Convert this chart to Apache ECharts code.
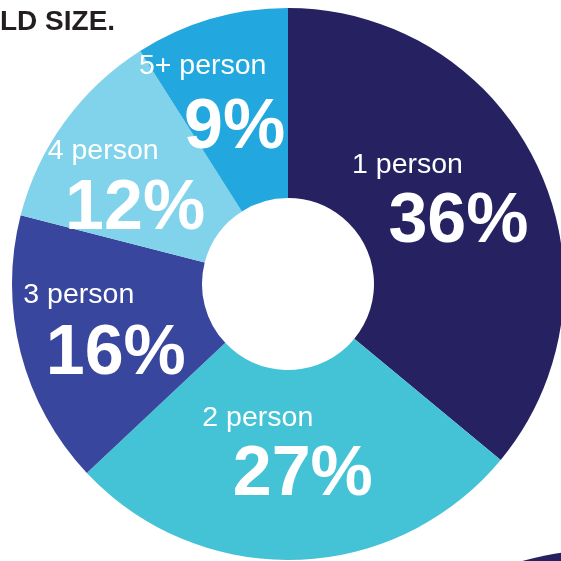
<!DOCTYPE html>
<html><head><meta charset="utf-8">
<script src="https://cdn.jsdelivr.net/npm/echarts@6/dist/echarts.min.js"></script>
<style>html,body{margin:0;padding:0;background:#fff}#c{width:561px;height:561px}</style>
</head><body><div id="c"></div>
<script>
const categories = ['1 person', '2 person', '3 person', '4 person', '5+ person'];
const shares = [36, 27, 16, 12, 9];
const titleText = 'LD SIZE.';

const colors = ['#262262', '#45c3d6', '#38469e', '#80d3ea', '#22a7df'];
// label layout tweaks (not data)
const nameOffsets = [[-47, -41], [-36, -50], [-31, -35], [-36, -25], [-34, -41]];
const pctOffsets = [[4, 17], [9, 8], [6, 25], [-4, 34], [-2, 21]];

const FONT = '"Liberation Sans", Arial, sans-serif';

const baseSeries = {
  type: 'pie',
  center: [288, 284],
  radius: [86, 276],
  startAngle: 90,
  clockwise: true,
  avoidLabelOverlap: false,
  silent: true,
  labelLayout: { hideOverlap: false },
  labelLine: { show: false },
  emphasis: { disabled: true }
};

const chart = echarts.init(document.getElementById('c'), null, { renderer: 'canvas' });
chart.setOption({
  animation: false,
  title: {
    text: titleText, left: 0, top: 8, padding: 0,
    textStyle: { fontFamily: FONT, fontSize: 28, fontWeight: 'bold', color: '#231f20' }
  },
  graphic: [{
    type: 'circle', silent: true, z: -1,
    shape: { cx: 600, cy: 830, r: 280 },
    style: { fill: '#262262' }
  }],
  series: [
    Object.assign({}, baseSeries, {
      itemStyle: { borderWidth: 0 },
      label: {
        show: true, position: 'inside',
        formatter: p => p.value + '%',
        fontFamily: FONT, fontSize: 70, fontWeight: 'bold', color: '#fff'
      },
      data: categories.map((c, i) => ({
        name: c, value: shares[i],
        itemStyle: { color: colors[i] },
        label: { offset: pctOffsets[i] }
      }))
    }),
    Object.assign({}, baseSeries, {
      z: 3,
      itemStyle: { color: 'rgba(0,0,0,0)', borderWidth: 0 },
      label: {
        show: true, position: 'inside',
        formatter: p => p.name,
        fontFamily: FONT, fontSize: 28.5, color: '#fff'
      },
      data: categories.map((c, i) => ({
        name: c, value: shares[i],
        label: { offset: nameOffsets[i] }
      }))
    })
  ]
});
</script>
</body></html>
